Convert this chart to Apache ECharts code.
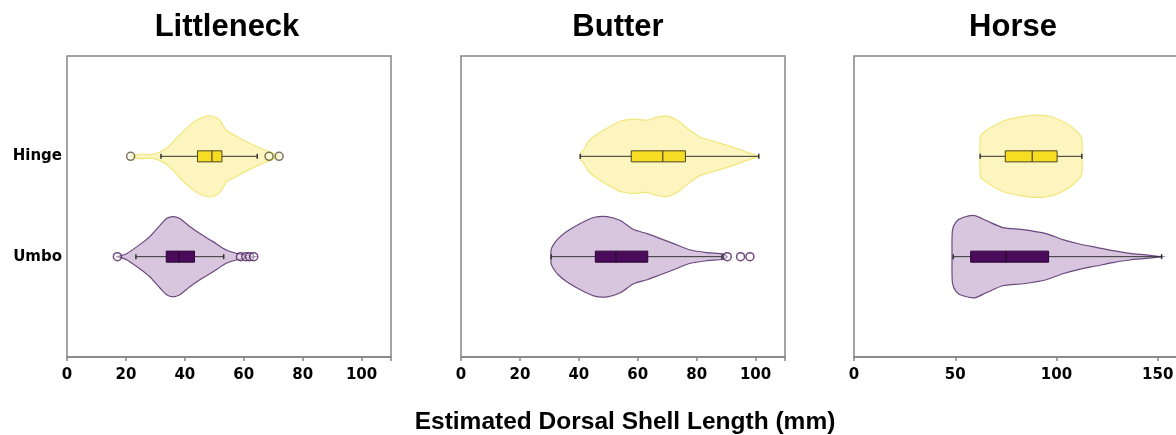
<!DOCTYPE html>
<html>
<head>
<meta charset="utf-8">
<script src="https://cdn.jsdelivr.net/npm/echarts@6/dist/echarts.min.js"></script>
<style>
html,body{margin:0;padding:0;background:#fff;}
#main{width:1176px;height:435px;}
</style>
</head>
<body>
<div id="main"></div>
<script>
// panels and groups
var panelTitles = ['Littleneck', 'Butter', 'Horse'];
var groupNames = ['Umbo', 'Hinge'];   // y position 1 = Umbo, 2 = Hinge
var xMax = [110, 110, 160];
var xStep = [20, 20, 50];
var axisTitle = 'Estimated Dorsal Shell Length (mm)';

// violin outlines: [length, half width]
var littleneckHingeShape = [[21.6,0],[24.7,0.023],[29.3,0.02],[33.8,0.08],[37.2,0.18],[40.6,0.28],[44.0,0.36],[47.4,0.40],[49.6,0.40],[51.9,0.36],[54.1,0.26],[57.5,0.20],[62.0,0.13],[66.5,0.07],[71.1,0.017],[72.2,0]];
var littleneckUmboShape = [[17.1,0],[20.2,0.03],[24.7,0.12],[28.1,0.20],[31.5,0.31],[33.8,0.38],[36.0,0.40],[38.3,0.38],[41.7,0.30],[45.1,0.23],[49.6,0.15],[54.1,0.066],[58.6,0.026],[63.7,0]];
var butterHingeShape = [[40.4,0],[40.6,0.03],[41.6,0.066],[43.9,0.17],[48.4,0.26],[54.1,0.35],[58.6,0.37],[63.2,0.36],[66.6,0.39],[70.0,0.40],[73.4,0.36],[76.8,0.28],[81.3,0.19],[85.8,0.15],[91.5,0.10],[97.2,0.04],[101.1,0]];
var butterUmboShape = [[30.5,0],[30.6,0.07],[31.4,0.12],[33.0,0.18],[35.9,0.25],[40.5,0.33],[45.0,0.39],[49.6,0.40],[54.1,0.36],[58.6,0.27],[63.2,0.23],[67.7,0.18],[72.2,0.13],[77.9,0.066],[83.6,0.04],[89.2,0.026],[90.4,0]];
var horseHingeShape = [[62.2,0],[62.4,0.20],[63.6,0.23],[67.0,0.28],[73.5,0.35],[81.7,0.39],[90.0,0.41],[98.2,0.39],[106.4,0.31],[111.3,0.22],[112.5,0.18],[112.7,0]];
var horseUmboShape = [[48.4,0],[48.6,0.26],[50.5,0.35],[53.8,0.39],[59.5,0.41],[65.3,0.36],[73.5,0.29],[83.4,0.27],[94.9,0.23],[103.1,0.17],[111.3,0.126],[119.6,0.093],[127.8,0.06],[136.2,0.033],[144.3,0.017],[151.8,0]];

// box stats: [whisker low, q1, median, q3, whisker high]
var littleneckHingeBox = [31.9, 44.3, 49.2, 52.6, 64.6];
var littleneckUmboBox = [23.4, 33.7, 38.0, 43.3, 53.2];
var butterHingeBox = [40.5, 57.8, 68.5, 76.2, 101.1];
var butterUmboBox = [30.6, 45.6, 52.6, 63.4, 88.6];
var horseHingeBox = [62.3, 74.7, 88.0, 100.3, 112.5];
var horseUmboBox = [49.0, 57.6, 75.2, 96.1, 151.9];

// outliers
var littleneckHingeOut = [21.6, 68.6, 72.0];
var littleneckUmboOut = [17.1, 58.9, 60.7, 62.0, 63.4];
var butterHingeOut = [];
var butterUmboOut = [90.4, 94.9, 98.1];
var horseHingeOut = [];
var horseUmboOut = [];

var hingeStyle = {fill:'#fcf5bf', edge:'#f1e77c', box:'#f6dc22', boxEdge:'#4f4520', out:'#5b5530'};
var umboStyle = {fill:'#d8c5de', edge:'#6a4a7e', box:'#4b0b5b', boxEdge:'#2a0632', out:'#4b1d5c'};

var BOX_H = 0.055;

function violinSeries(gi, y, shape, st){
	return {
		type:'custom', xAxisIndex:gi, yAxisIndex:gi, silent:true, z:1,
		data:[[shape[0][0], y]],
		renderItem:function(params, api){
			var top = [], bot = [];
			shape.forEach(function(p){
				top.push(api.coord([p[0], y + p[1]]));
				bot.push(api.coord([p[0], y - p[1]]));
			});
			var pts = top.concat(bot.reverse());
			return {type:'polygon', shape:{points:pts, smooth:0.25},
				style:{fill:st.fill, stroke:st.edge, lineWidth:1.2}};
		}
	};
}

function boxSeries(gi, y, b, st){
	return {
		type:'custom', xAxisIndex:gi, yAxisIndex:gi, silent:true, z:3,
		data:[[b[2], y]],
		renderItem:function(params, api){
			var lo = api.coord([b[0], y]), hi = api.coord([b[4], y]);
			var q1t = api.coord([b[1], y + BOX_H]), q3b = api.coord([b[3], y - BOX_H]);
			var mt = api.coord([b[2], y + BOX_H]), mb = api.coord([b[2], y - BOX_H]);
			var cap = 2.5;
			return {type:'group', children:[
				{type:'line', shape:{x1:lo[0], y1:lo[1], x2:hi[0], y2:hi[1]}, style:{stroke:'#333', lineWidth:1}},
				{type:'line', shape:{x1:lo[0], y1:lo[1]-cap, x2:lo[0], y2:lo[1]+cap}, style:{stroke:'#333', lineWidth:1.5}},
				{type:'line', shape:{x1:hi[0], y1:hi[1]-cap, x2:hi[0], y2:hi[1]+cap}, style:{stroke:'#333', lineWidth:1.5}},
				{type:'rect', shape:{x:q1t[0], y:q1t[1], width:q3b[0]-q1t[0], height:q3b[1]-q1t[1]},
					style:{fill:st.box, stroke:st.boxEdge, lineWidth:1}},
				{type:'line', shape:{x1:mt[0], y1:mt[1], x2:mb[0], y2:mb[1]}, style:{stroke:st.boxEdge, lineWidth:1.2}}
			]};
		}
	};
}

function outlierSeries(gi, y, vals, st){
	return {
		type:'scatter', xAxisIndex:gi, yAxisIndex:gi, silent:true, z:4,
		symbol:'circle', symbolSize:8,
		itemStyle:{color:'rgba(255,255,255,0.5)', borderColor:st.out, borderWidth:1.5},
		data:vals.map(function(v){ return [v, y]; })
	};
}

var shapes = [[littleneckUmboShape, littleneckHingeShape], [butterUmboShape, butterHingeShape], [horseUmboShape, horseHingeShape]];
var boxes = [[littleneckUmboBox, littleneckHingeBox], [butterUmboBox, butterHingeBox], [horseUmboBox, horseHingeBox]];
var outs = [[littleneckUmboOut, littleneckHingeOut], [butterUmboOut, butterHingeOut], [horseUmboOut, horseHingeOut]];

var gridLefts = [67, 461, 854];
var titleCenters = [227, 618, 1013];
var grids = [], xAxes = [], yAxes = [], series = [], graphics = [];

for (var i = 0; i < 3; i++) {
	grids.push({left:gridLefts[i], top:56, width:324, height:301, outerBoundsMode:'none',
		show:true, borderColor:'#858585', borderWidth:1.5, backgroundColor:'#fff'});
	(function(step){
		xAxes.push({type:'value', gridIndex:i, min:0, max:xMax[i], interval:step,
			axisLine:{show:true, lineStyle:{color:'#858585', width:1.5}},
			axisTick:{show:true, length:4, lineStyle:{color:'#858585', width:1.5}},
			splitLine:{show:false},
			axisLabel:{color:'#000', fontFamily:'DejaVu Sans', fontWeight:'bold', fontSize:15, margin:11,
				formatter:function(v){ return v % step === 0 ? String(v) : ''; }}
		});
	})(xStep[i]);
	yAxes.push({type:'value', gridIndex:i, min:0, max:3, interval:1,
		axisLine:{show:false}, axisTick:{show:false}, splitLine:{show:false},
		axisLabel:{show:i === 0, color:'#000', fontFamily:'DejaVu Sans', fontWeight:'bold', fontSize:15, margin:5,
			formatter:function(v){ return v === 1 ? groupNames[0] : (v === 2 ? groupNames[1] : ''); }}
	});
	for (var g = 0; g < 2; g++) {
		var st = g === 0 ? umboStyle : hingeStyle;
		series.push(violinSeries(i, g + 1, shapes[i][g], st));
		series.push(boxSeries(i, g + 1, boxes[i][g], st));
		if (outs[i][g].length) series.push(outlierSeries(i, g + 1, outs[i][g], st));
	}
	graphics.push({type:'text', x:titleCenters[i], y:27,
		style:{text:panelTitles[i], fill:'#000', font:'bold 31px "Liberation Sans", Arial, sans-serif',
			textAlign:'center', textVerticalAlign:'middle'}});
}
graphics.push({type:'text', x:625, y:422,
	style:{text:axisTitle, fill:'#000', font:'bold 24.5px "Liberation Sans", Arial, sans-serif',
		textAlign:'center', textVerticalAlign:'middle'}});

var chart = echarts.init(document.getElementById('main'), null, {renderer:'canvas'});
chart.setOption({
	animation:false,
	backgroundColor:'#fff',
	grid:grids,
	xAxis:xAxes,
	yAxis:yAxes,
	series:series,
	graphic:graphics
});
</script>
</body>
</html>
